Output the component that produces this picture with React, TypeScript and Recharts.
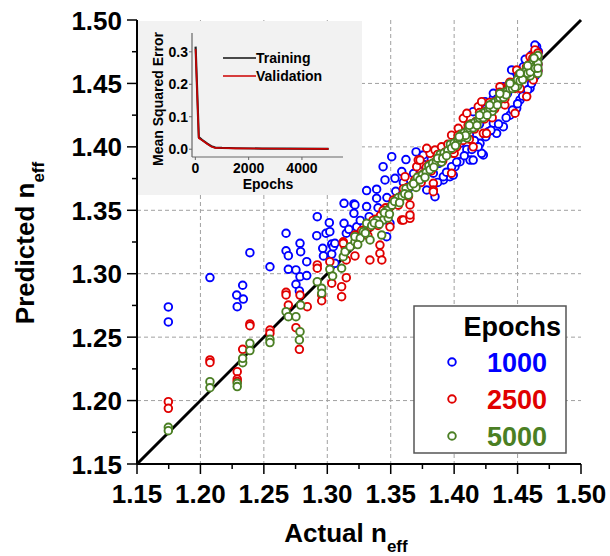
import React from 'react';
import {
  ScatterChart, Scatter, XAxis, YAxis, CartesianGrid, ReferenceLine, Legend, Label,
  LineChart, Line,
} from 'recharts';

const FONT = "'Liberation Sans', Arial, Helvetica, sans-serif";

// ---------- main axes ----------
const majorTicks = [1.15, 1.2, 1.25, 1.3, 1.35, 1.4, 1.45, 1.5];
const minorTicks = [1.175, 1.225, 1.275, 1.325, 1.375, 1.425, 1.475];
const gridValues = [1.2, 1.25, 1.3, 1.35, 1.4, 1.45];
const allTicks = [...majorTicks, ...minorTicks].sort((a, b) => a - b);

// ---------- scatter data: [actual, predicted] ----------
const epochs1000: [number, number][] = [
  [1.1747, 1.2738], [1.1747, 1.2620], [1.2075, 1.2970], [1.2390, 1.3166], [1.2286, 1.2832],
  [1.2290, 1.2740], [1.2333, 1.2909], [1.2338, 1.2800], [1.2548, 1.3055], [1.2675, 1.3319],
  [1.2675, 1.3181], [1.2693, 1.3142], [1.2693, 1.3035], [1.2753, 1.3030], [1.2753, 1.2917],
  [1.2785, 1.3240], [1.2790, 1.3174], [1.2785, 1.2977], [1.2838, 1.3095], [1.2838, 1.2985],
  [1.2780, 1.2864], [1.2921, 1.3450], [1.2917, 1.3300], [1.2964, 1.3200], [1.2970, 1.3140],
  [1.2990, 1.3319], [1.3016, 1.3402], [1.3020, 1.3331], [1.3035, 1.3234], [1.3035, 1.3155],
  [1.3132, 1.3555], [1.3132, 1.3397], [1.3150, 1.3319], [1.3210, 1.3550], [1.3210, 1.3476],
  [1.3232, 1.3370], [1.3047, 1.3213], [1.3060, 1.3082], [1.3060, 1.3240], [1.3218, 1.3542],
  [1.3310, 1.3655], [1.3389, 1.3666], [1.3389, 1.3595], [1.3455, 1.3739], [1.3310, 1.3529],
  [1.3587, 1.3805], [1.3534, 1.3752], [1.3440, 1.3844], [1.3508, 1.3923], [1.3494, 1.3397],
  [1.3468, 1.3292], [1.3620, 1.3900], [1.3700, 1.3960], [1.3560, 1.3600], [1.3650, 1.3680],
  [1.3720, 1.3740], [1.3800, 1.3820], [1.3880, 1.3870], [1.3950, 1.3960], [1.4050, 1.4030],
  [1.4120, 1.4100], [1.4200, 1.4180], [1.4280, 1.4260], [1.4350, 1.4340], [1.4420, 1.4420],
  [1.4470, 1.4480], [1.4550, 1.4560], [1.4600, 1.4620],
  [1.3849, 1.3607], [1.3915, 1.3739], [1.3967, 1.3765], [1.4007, 1.3844], [1.3784, 1.3660],
  [1.3836, 1.3792], [1.3993, 1.3778], [1.4125, 1.3896], [1.4230, 1.3936], [1.4204, 1.4028],
  [1.4335, 1.4107], [1.4388, 1.4159], [1.4493, 1.4304], [1.4519, 1.4370], [1.4598, 1.4462],
  [1.4309, 1.4186], [1.4046, 1.3883], [1.4217, 1.3949], [1.4150, 1.3896], [1.3915, 1.3765],
  [1.3980, 1.3844], [1.4100, 1.3980], [1.4160, 1.4050], [1.4270, 1.4120], [1.4440, 1.4250],
  [1.4560, 1.4420], [1.4620, 1.4530], [1.4660, 1.4600],
  [1.3757, 1.3936], [1.4150, 1.4277], [1.4309, 1.4383], [1.4388, 1.4474], [1.4493, 1.4580],
  [1.4546, 1.4632], [1.4611, 1.4724], [1.4650, 1.4790], [1.4637, 1.4803], [1.4664, 1.4750],
  [1.4453, 1.4606], [1.4388, 1.4448], [1.4309, 1.4422], [1.4243, 1.4356], [1.4560, 1.4690],
  [1.4620, 1.4660],
  [1.3870, 1.3720], [1.3940, 1.3800], [1.4020, 1.3880], [1.4080, 1.3930], [1.4140, 1.3980],
  [1.4190, 1.4000], [1.4250, 1.4080], [1.4290, 1.4130], [1.4350, 1.4180], [1.4410, 1.4230],
  [1.4460, 1.4290], [1.4500, 1.4340], [1.4540, 1.4400], [1.4580, 1.4450], [1.4610, 1.4500],
  [1.4640, 1.4560], [1.4660, 1.4650], [1.4660, 1.4700], [1.4500, 1.4540], [1.4420, 1.4460],
  [1.4340, 1.4380], [1.4250, 1.4300], [1.3600, 1.3720], [1.3680, 1.3790], [1.3760, 1.3860],
  [1.3820, 1.3900], [1.3540, 1.3650], [1.3470, 1.3600], [1.3400, 1.3520], [1.3330, 1.3450],
  [1.3260, 1.3420], [1.3170, 1.3350],
];

const epochs2500: [number, number][] = [
  [1.1747, 1.1991], [1.1747, 1.1939], [1.2075, 1.2320], [1.2075, 1.2300], [1.2290, 1.2228],
  [1.2290, 1.2170], [1.2290, 1.2150], [1.2333, 1.2404], [1.2390, 1.2604], [1.2390, 1.2590],
  [1.2548, 1.2556], [1.2548, 1.2530], [1.2675, 1.2854], [1.2675, 1.2833], [1.2693, 1.2753],
  [1.2753, 1.2575], [1.2780, 1.2404], [1.2785, 1.2832], [1.2842, 1.2740], [1.2921, 1.3069],
  [1.2921, 1.3043], [1.2956, 1.2832], [1.2956, 1.2787], [1.3020, 1.3095], [1.3035, 1.2925],
  [1.3113, 1.2898], [1.3113, 1.2819], [1.3150, 1.2969], [1.3126, 1.3252], [1.3140, 1.3213],
  [1.3218, 1.3140], [1.3218, 1.3305], [1.3150, 1.3108], [1.3336, 1.3108], [1.3415, 1.3160],
  [1.3430, 1.3108], [1.3415, 1.3226], [1.3126, 1.3240], [1.3494, 1.3370], [1.3586, 1.3423],
  [1.3600, 1.3423], [1.3652, 1.3437], [1.3652, 1.3463], [1.3652, 1.3542], [1.3836, 1.3713],
  [1.3836, 1.3660], [1.3836, 1.3647], [1.3980, 1.3792], [1.3993, 1.3949], [1.4020, 1.4000],
  [1.4150, 1.4000], [1.4230, 1.4107], [1.4255, 1.4107], [1.4480, 1.4265], [1.4572, 1.4396],
  [1.4624, 1.4527],
  [1.3613, 1.3765], [1.3705, 1.3844], [1.3717, 1.3896], [1.3731, 1.3896], [1.3744, 1.3739],
  [1.3810, 1.3949], [1.3849, 1.3975], [1.3901, 1.4000], [1.3980, 1.4092], [1.4033, 1.4146],
  [1.4072, 1.4225], [1.4100, 1.4265], [1.4190, 1.4317], [1.4217, 1.4356], [1.4361, 1.4474],
  [1.4493, 1.4606], [1.4598, 1.4711], [1.4637, 1.4764], [1.3784, 1.3989],
  [1.3250, 1.3290], [1.3300, 1.3350], [1.3340, 1.3370], [1.3380, 1.3430], [1.3420, 1.3460],
  [1.3460, 1.3520], [1.3500, 1.3530], [1.3540, 1.3590], [1.3580, 1.3610], [1.3630, 1.3680],
  [1.3670, 1.3700], [1.3720, 1.3770], [1.3760, 1.3790], [1.3800, 1.3860], [1.3850, 1.3880],
  [1.3880, 1.3930], [1.3930, 1.3960], [1.3960, 1.4010], [1.4010, 1.4040], [1.4050, 1.4100],
  [1.4090, 1.4120], [1.4130, 1.4180], [1.4170, 1.4200], [1.4210, 1.4260], [1.4250, 1.4280],
  [1.4290, 1.4340], [1.4330, 1.4360], [1.4370, 1.4420], [1.4410, 1.4440], [1.4450, 1.4500],
  [1.4490, 1.4520], [1.4530, 1.4580], [1.4560, 1.4590], [1.4600, 1.4640], [1.4630, 1.4660],
  [1.4650, 1.4700], [1.4660, 1.4740], [1.4660, 1.4650], [1.4640, 1.4610],
  [1.4000, 1.3950], [1.4120, 1.4060], [1.4300, 1.4230], [1.4400, 1.4330], [1.4520, 1.4460],
  [1.3270, 1.3340], [1.3320, 1.3300], [1.3360, 1.3420], [1.3400, 1.3380], [1.3440, 1.3500],
  [1.3480, 1.3460], [1.3520, 1.3580], [1.3560, 1.3540], [1.3600, 1.3670], [1.3640, 1.3610],
  [1.3690, 1.3740], [1.3740, 1.3720], [1.3780, 1.3840], [1.3820, 1.3810], [1.3870, 1.3940],
  [1.3910, 1.3890], [1.3950, 1.4020], [1.3990, 1.3980], [1.4030, 1.4090], [1.4070, 1.4050],
  [1.4110, 1.4170], [1.4160, 1.4140], [1.4200, 1.4270], [1.4240, 1.4220], [1.4280, 1.4350],
  [1.4320, 1.4300], [1.4360, 1.4430], [1.4400, 1.4380], [1.4440, 1.4510], [1.4480, 1.4460],
  [1.4510, 1.4570], [1.4550, 1.4540], [1.4590, 1.4650], [1.4620, 1.4600], [1.4650, 1.4680],
  [1.4660, 1.4710], [1.4660, 1.4600], [1.4620, 1.4700], [1.4570, 1.4630], [1.4430, 1.4490],
];

const epochs5000: [number, number][] = [
  [1.1747, 1.1789], [1.1747, 1.1763], [1.2075, 1.2149], [1.2075, 1.2101], [1.2290, 1.2136],
  [1.2290, 1.2110], [1.2333, 1.2299], [1.2333, 1.2333], [1.2390, 1.2451], [1.2390, 1.2394],
  [1.2548, 1.2483], [1.2548, 1.2457], [1.2675, 1.2701], [1.2693, 1.2661], [1.2753, 1.2661],
  [1.2785, 1.2543], [1.2780, 1.2478], [1.2790, 1.2753], [1.2921, 1.2937], [1.2956, 1.2885],
  [1.2956, 1.2846], [1.3020, 1.3035], [1.3042, 1.2982], [1.3113, 1.3043], [1.3126, 1.3134],
  [1.3140, 1.3174], [1.3180, 1.3213], [1.3218, 1.3252], [1.3218, 1.3292], [1.3284, 1.3331],
  [1.3310, 1.3397], [1.3337, 1.3266], [1.3429, 1.3305], [1.3440, 1.3423], [1.3260, 1.3280],
  [1.3350, 1.3380], [1.3390, 1.3420], [1.3470, 1.3500], [1.3510, 1.3540], [1.3480, 1.3440],
  [1.3560, 1.3600], [1.3590, 1.3610], [1.3620, 1.3670], [1.3660, 1.3690], [1.3690, 1.3720],
  [1.3710, 1.3760], [1.3750, 1.3780], [1.3780, 1.3800], [1.3800, 1.3850], [1.3830, 1.3870],
  [1.3860, 1.3880], [1.3890, 1.3940], [1.3920, 1.3950], [1.3950, 1.3970], [1.3970, 1.4020],
  [1.4000, 1.4030], [1.4030, 1.4050], [1.4060, 1.4100], [1.4080, 1.4110], [1.4110, 1.4130],
  [1.4140, 1.4180], [1.4160, 1.4190], [1.4190, 1.4210], [1.4220, 1.4260], [1.4240, 1.4270],
  [1.4270, 1.4290], [1.4300, 1.4340], [1.4320, 1.4350], [1.4350, 1.4370], [1.4380, 1.4420],
  [1.4400, 1.4430], [1.4420, 1.4440], [1.4450, 1.4490], [1.4470, 1.4500], [1.4490, 1.4510],
  [1.4510, 1.4550], [1.4530, 1.4560], [1.4550, 1.4570], [1.4570, 1.4610], [1.4590, 1.4620],
  [1.4610, 1.4630], [1.4620, 1.4660], [1.4640, 1.4680], [1.4650, 1.4640], [1.4660, 1.4700],
  [1.4660, 1.4720], [1.4650, 1.4600], [1.4660, 1.4580], [1.3700, 1.3680], [1.3900, 1.3880],
  [1.4100, 1.4070], [1.4300, 1.4280], [1.4500, 1.4480], [1.4600, 1.4560],
  [1.3240, 1.3230], [1.3300, 1.3320], [1.3370, 1.3400], [1.3410, 1.3390], [1.3450, 1.3480],
  [1.3490, 1.3470], [1.3530, 1.3570], [1.3570, 1.3560], [1.3610, 1.3630], [1.3640, 1.3620],
  [1.3680, 1.3710], [1.3730, 1.3740], [1.3770, 1.3760], [1.3810, 1.3820], [1.3840, 1.3840],
  [1.3870, 1.3910], [1.3910, 1.3910], [1.3940, 1.3930], [1.3980, 1.3990], [1.4010, 1.4010],
  [1.4040, 1.4070], [1.4070, 1.4080], [1.4090, 1.4090], [1.4120, 1.4150], [1.4150, 1.4150],
  [1.4180, 1.4170], [1.4200, 1.4230], [1.4230, 1.4230], [1.4260, 1.4250], [1.4280, 1.4310],
  [1.4310, 1.4310], [1.4340, 1.4330], [1.4360, 1.4390], [1.4390, 1.4390], [1.4410, 1.4410],
  [1.4440, 1.4460], [1.4460, 1.4460], [1.4480, 1.4470], [1.4500, 1.4530], [1.4520, 1.4520],
  [1.4540, 1.4530], [1.4560, 1.4590], [1.4580, 1.4580], [1.4600, 1.4590], [1.4610, 1.4650],
  [1.4630, 1.4630], [1.4640, 1.4620], [1.4650, 1.4670], [1.4660, 1.4660], [1.4660, 1.4620],
  [1.4630, 1.4700], [1.4580, 1.4640], [1.4520, 1.4580], [1.4440, 1.4500], [1.4360, 1.4420],
  [1.4280, 1.4330], [1.4200, 1.4250], [1.4120, 1.4170], [1.4040, 1.4080],
];

const seriesNames = ['1000', '2500', '5000'];
const seriesColors = ['#0000ff', '#e00000', '#4b7f24'];
const seriesData = [epochs1000, epochs2500, epochs5000];

// ---------- inset (training history) ----------
const historyEpochs = [10, 130, 250, 450, 600, 750, 1000, 1500, 2500, 3500, 5000];
const trainingMSE = [0.316, 0.037, 0.029, 0.017, 0.009, 0.005, 0.004, 0.003, 0.002, 0.0015, 0.001];
const validationMSE = [0.309, 0.034, 0.028, 0.016, 0.008, 0.004, 0.0035, 0.0025, 0.002, 0.0015, 0.001];
const insetXTicks = [0, 2000, 4000];
const insetYTicks = [0, 0.1, 0.2, 0.3];

const historyData = historyEpochs.map((e, i) => ({ epoch: e, training: trainingMSE[i], validation: validationMSE[i] }));

const isMajor = (v: number) => majorTicks.some((t) => Math.abs(t - v) < 1e-6);

const BottomTick = (props: any) => {
  const { x, y, payload } = props;
  const v = payload.value;
  const major = isMajor(v);
  return (
    <g>
      <line x1={x} x2={x} y1={y} y2={y + (major ? 10 : 5)} stroke="#000" strokeWidth={1.5} />
      {major && (
        <text x={x} y={y + 39} textAnchor="middle" fontSize={26} fontWeight="bold" fontFamily={FONT} fill="#000">
          {v.toFixed(2)}
        </text>
      )}
    </g>
  );
};

const LeftTick = (props: any) => {
  const { x, y, payload } = props;
  const v = payload.value;
  const major = isMajor(v);
  return (
    <g>
      <line x1={x} x2={x - (major ? 10 : 5)} y1={y} y2={y} stroke="#000" strokeWidth={1.5} />
      {major && (
        <text x={x - 15} y={y + 9.5} textAnchor="end" fontSize={26} fontWeight="bold" fontFamily={FONT} fill="#000">
          {v.toFixed(2)}
        </text>
      )}
    </g>
  );
};

const TopTick = (props: any) => {
  const { x, y, payload } = props;
  const major = isMajor(payload.value);
  return <line x1={x} x2={x} y1={y} y2={y + (major ? 8 : 5)} stroke="#000" strokeWidth={1.5} />;
};

const RightTick = (props: any) => {
  const { x, y, payload } = props;
  const major = isMajor(payload.value);
  return <line x1={x} x2={x - (major ? 8 : 5)} y1={y} y2={y} stroke="#000" strokeWidth={1.5} />;
};

const makeShape = (color: string) => (props: any) => (
  <circle cx={props.cx} cy={props.cy} r={3.8} fill="#fff" stroke={color} strokeWidth={1.9} />
);

const MainLegend = () => (
  <svg width={155} height={150} style={{ display: 'block' }}>
    <rect x={1} y={1} width={152} height={147} fill="#fff" stroke="#555" strokeWidth={1.5} />
    <text x={148} y={31} textAnchor="end" fontSize={27} fontWeight="bold" fontFamily={FONT} fill="#000">Epochs</text>
    {seriesNames.map((n, i) => (
      <g key={n}>
        <circle cx={39} cy={57 + i * 37} r={3.8} fill="#fff" stroke={seriesColors[i]} strokeWidth={1.9} />
        <text x={134} y={57 + i * 37 + 9.5} textAnchor="end" fontSize={27} fontWeight="bold" fontFamily={FONT} fill={seriesColors[i]}>
          {n}
        </text>
      </g>
    ))}
  </svg>
);

const InsetLegend = () => (
  <svg width={110} height={40} style={{ display: 'block' }}>
    <line x1={5} x2={38} y1={9} y2={9} stroke="#111" strokeWidth={1.6} />
    <text x={38} y={14} fontSize={14} fontWeight="bold" fontFamily={FONT} fill="#000">Training</text>
    <line x1={5} x2={38} y1={27} y2={27} stroke="#cc0000" strokeWidth={1.6} />
    <text x={38} y={32} fontSize={14} fontWeight="bold" fontFamily={FONT} fill="#000">Validation</text>
  </svg>
);

export default function App() {
  return (
    <div style={{ position: 'absolute', left: 0, top: 0, width: 610, height: 556, background: '#fff', fontFamily: FONT }}>
      <ScatterChart width={610} height={556} margin={{ top: 20, right: 29, bottom: 0, left: 0 }}>
        <CartesianGrid stroke="#a0a0a0" strokeWidth={1} strokeDasharray="4 3" horizontalValues={gridValues} verticalValues={gridValues} />
        <XAxis
          type="number" dataKey="x" domain={[1.15, 1.5]} ticks={allTicks} interval={0} allowDataOverflow
          height={92} tick={<BottomTick />} tickSize={0} tickMargin={0} tickLine={false}
          axisLine={{ stroke: '#000', strokeWidth: 2 }}
        >
          <Label
            content={() => (
              <text x={346} y={542} textAnchor="middle" fontSize={26} fontWeight="bold" fontFamily={FONT} fill="#000">
                Actual n<tspan dy={10} fontSize={17}>eff</tspan>
              </text>
            )}
          />
        </XAxis>
        <XAxis
          xAxisId="top" orientation="top" type="number" domain={[1.15, 1.5]} ticks={allTicks} interval={0} allowDataOverflow
          height={0} tick={<TopTick />} tickSize={0} tickMargin={0} tickLine={false}
          axisLine={{ stroke: '#000', strokeWidth: 2 }}
        />
        <YAxis
          type="number" dataKey="y" domain={[1.15, 1.5]} ticks={allTicks} interval={0} allowDataOverflow
          width={137} tick={<LeftTick />} tickSize={0} tickMargin={0} tickLine={false}
          axisLine={{ stroke: '#000', strokeWidth: 2 }}
        >
          <Label
            content={() => (
              <text x={34} y={243} transform="rotate(-90, 34, 243)" textAnchor="middle" fontSize={26} fontWeight="bold" fontFamily={FONT} fill="#000">
                Predicted n<tspan dy={10} fontSize={17}>eff</tspan>
              </text>
            )}
          />
        </YAxis>
        <YAxis
          yAxisId="right" orientation="right" type="number" domain={[1.15, 1.5]} ticks={allTicks} interval={0} allowDataOverflow
          width={0} tick={<RightTick />} tickSize={0} tickMargin={0} tickLine={false}
          axisLine={{ stroke: '#000', strokeWidth: 2 }}
        />
        {seriesData.map((d, i) => (
          <Scatter
            key={seriesNames[i]}
            name={seriesNames[i]}
            data={d.map(([x, y]) => ({ x, y }))}
            fill={seriesColors[i]}
            shape={makeShape(seriesColors[i])}
            isAnimationActive={false}
          />
        ))}
        <ReferenceLine segment={[{ x: 1.15, y: 1.15 }, { x: 1.5, y: 1.5 }]} stroke="#000" strokeWidth={3} />
        <Legend
          layout="horizontal" verticalAlign="middle" align="center"
          content={() => <MainLegend />}
          wrapperStyle={{ left: 413, top: 305, width: 155, height: 150 }}
        />
      </ScatterChart>

      <div style={{ position: 'absolute', left: 138, top: 21, width: 224, height: 174, background: '#f2f2f2' }}>
        <LineChart width={224} height={174} data={historyData} margin={{ top: 12, right: 19, bottom: 0, left: 0 }}>
          <XAxis
            type="number" dataKey="epoch" domain={[-125, 5540]} ticks={insetXTicks} interval={0} allowDataOverflow
            height={38} tickSize={3} tickMargin={3}
            tick={{ fontSize: 14, fontWeight: 'bold', fill: '#000', fontFamily: FONT }}
            stroke="#666" axisLine={{ stroke: '#666', strokeWidth: 1.2 }} tickLine={{ stroke: '#666' }}
          >
            <Label
              content={() => (
                <text x={130} y={167.5} textAnchor="middle" fontSize={14} fontWeight="bold" fontFamily={FONT} fill="#000">Epochs</text>
              )}
            />
          </XAxis>
          <YAxis
            type="number" domain={[-0.024, 0.358]} ticks={insetYTicks} interval={0} allowDataOverflow
            width={54} tickSize={3} tickMargin={1} tickFormatter={(v: number) => v.toFixed(1)}
            tick={{ fontSize: 14, fontWeight: 'bold', fill: '#000', fontFamily: FONT }}
            stroke="#666" axisLine={{ stroke: '#666', strokeWidth: 1.2 }} tickLine={{ stroke: '#666' }}
          >
            <Label
              content={() => (
                <text x={25} y={78} transform="rotate(-90, 25, 78)" textAnchor="middle" fontSize={14} fontWeight="bold" fontFamily={FONT} fill="#000">
                  Mean Squared Error
                </text>
              )}
            />
          </YAxis>
          <Line type="linear" dataKey="training" stroke="#222" strokeWidth={2.2} dot={false} isAnimationActive={false} />
          <Line type="linear" dataKey="validation" stroke="#cc0000" strokeWidth={1.6} dot={false} isAnimationActive={false} />
          <Legend
            layout="horizontal" verticalAlign="middle" align="center"
            content={() => <InsetLegend />}
            wrapperStyle={{ left: 80, top: 28, width: 110, height: 40 }}
          />
        </LineChart>
      </div>
    </div>
  );
}
